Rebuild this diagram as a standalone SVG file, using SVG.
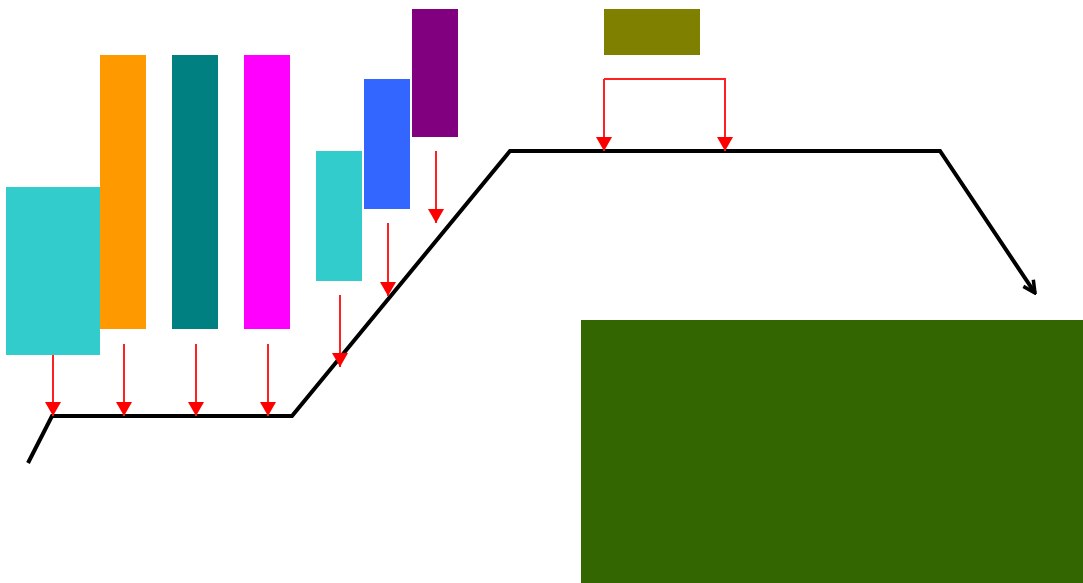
<svg xmlns="http://www.w3.org/2000/svg" width="1083" height="583" viewBox="0 0 1083 583">
<style>
.red{fill:none;stroke:#ff2020;stroke-width:2;marker-end:url(#ra)}
.main{fill:none;stroke:#000;stroke-width:4;stroke-linejoin:miter;marker-end:url(#ba)}
</style>
<defs>
<marker id="ra" viewBox="0 0 16 14" refX="8" refY="14" markerWidth="16" markerHeight="14" markerUnits="userSpaceOnUse" orient="0">
<polygon points="0,0 16,0 8,14" fill="#ff0000"/>
</marker>
<marker id="ba" viewBox="-14 -8 16 16" refX="0" refY="0" markerWidth="16" markerHeight="16" markerUnits="userSpaceOnUse" orient="auto">
<polyline points="-12,-6 0,0 -12,6" fill="none" stroke="#000" stroke-width="3.5"/>
</marker>
</defs>
<rect width="1083" height="583" fill="#fff"/>
<g id="n1"><rect x="6" y="187" width="94" height="168" fill="#33cccc"/></g>
<g id="n2"><rect x="100" y="55" width="46" height="274" fill="#ff9900"/></g>
<g id="n3"><rect x="172" y="55" width="46" height="274" fill="#008080"/></g>
<g id="n4"><rect x="244" y="55" width="46" height="274" fill="#ff00ff"/></g>
<g id="n5"><rect x="316" y="151" width="46" height="130" fill="#33cccc"/></g>
<g id="n6"><rect x="364" y="79" width="46" height="130" fill="#3366ff"/></g>
<g id="n7"><rect x="412" y="9" width="46" height="128" fill="#800080"/></g>
<g id="n8"><rect x="604" y="9" width="96" height="46" fill="#808000"/></g>
<g id="n9"><rect x="581" y="320" width="502" height="263" fill="#336600"/></g>
<g id="connectors">
<polyline class="main" points="28,463 52,416 292,416 510,151 940,151 1035,293"/>
<line class="red" x1="53" y1="355" x2="53" y2="416"/>
<line class="red" x1="124" y1="344" x2="124" y2="416"/>
<line class="red" x1="196" y1="344" x2="196" y2="416"/>
<line class="red" x1="268" y1="344" x2="268" y2="416"/>
<line class="red" x1="340" y1="295" x2="340" y2="367"/>
<line class="red" x1="388" y1="223" x2="388" y2="296"/>
<line class="red" x1="436" y1="151" x2="436" y2="223"/>
<polyline class="red" points="604,79 604,151"/>
<polyline class="red" points="604,79 725,79 725,151"/>
</g>
</svg>
